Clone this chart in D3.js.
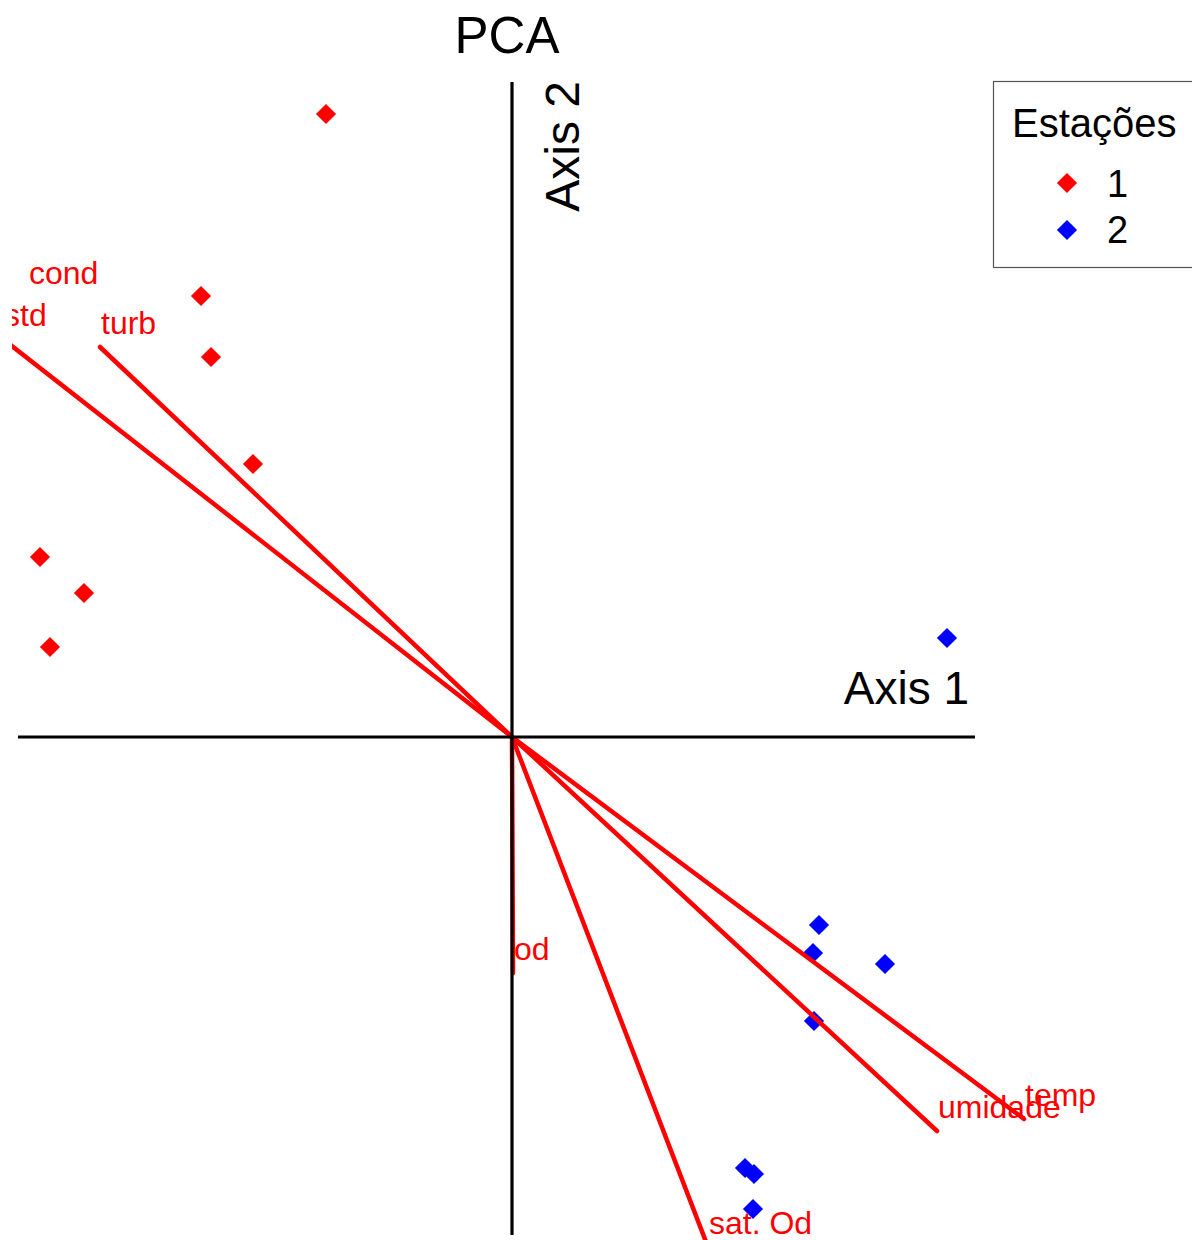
<!DOCTYPE html>
<html>
<head>
<meta charset="utf-8">
<script src="https://cdn.jsdelivr.net/npm/d3@7"></script>
<style>
  body { margin: 0; background: #fff; }
  svg { display: block; font-family: "Liberation Sans", Arial, sans-serif; }
</style>
</head>
<body>
<svg id="chart" width="1192" height="1240"></svg>
<script>
// ---- data (PCA axis units) ----
const station = ["1","1","1","1","1","1","1","2","2","2","2","2","2","2","2"];
const pc1 = [-1.86, -3.11, -3.01, -2.59, -4.72, -4.28, -4.62, 4.35, 3.07, 3.01, 3.73, 3.02, 2.33, 2.42, 2.41];
const pc2 = [ 6.23,  4.41,  3.80,  2.73,  1.80,  1.44,  0.90, 0.99, -1.88, -2.16, -2.27, -2.84, -4.31, -4.37, -4.72];

const varNames = ["cond", "std", "turb", "od", "sat. Od", "umidade", "temp"];
const loadX    = [-4.84, -5.09, -4.12, 0.01, 1.96, 4.25, 5.12];
const loadY    = [ 4.40,  3.98,  3.90, -2.36, -5.10, -3.94, -3.82];
const arrowShown = [false, true, true, true, true, true, true];

const stations = ["1", "2"];
const stationColors = ["#ff0000", "#0000ff"];
const axisX = [-4.94, 4.63];
const axisY = [-4.98, 6.55];

// ---- drawing ----
const svg = d3.select("#chart");
const x = d3.scaleLinear().domain([-5, 5]).range([12, 1012]);
const y = d3.scaleLinear().domain([-5, 5]).range([1237, 237]);
const color = d3.scaleOrdinal().domain(stations).range(stationColors);
const font = "Liberation Sans, Arial, sans-serif";

svg.append("defs").append("clipPath").attr("id", "plotclip")
  .append("rect").attr("x", 12).attr("y", 0).attr("width", 1180).attr("height", 1240);

const plot = svg.append("g").attr("clip-path", "url(#plotclip)");

// points
const diamond = d3.symbol().type(d3.symbolDiamond2).size(260);
plot.append("g").selectAll("path").data(pc1.map((d, i) => i)).join("path")
  .attr("d", diamond)
  .attr("transform", i => `translate(${x(pc1[i])},${y(pc2[i])})`)
  .attr("fill", i => color(station[i]));

// loadings
const loads = varNames.map((n, i) => ({ n, lx: loadX[i], ly: loadY[i], show: arrowShown[i] }));
plot.append("g").selectAll("line").data(loads.filter(d => d.show)).join("line")
  .attr("x1", x(0)).attr("y1", y(0))
  .attr("x2", d => x(d.lx)).attr("y2", d => y(d.ly))
  .attr("stroke", "#ff0000").attr("stroke-width", 4.5).attr("stroke-linecap", "round");
plot.append("g").selectAll("text").data(loads).join("text")
  .attr("x", d => x(d.lx) + 1).attr("y", d => y(d.ly) - 13)
  .attr("fill", "#ff0000").attr("font-size", 32).attr("font-family", font)
  .text(d => d.n);

// axes lines
svg.append("line").attr("x1", x(axisX[0])).attr("x2", x(axisX[1]))
  .attr("y1", y(0)).attr("y2", y(0)).attr("stroke", "#000").attr("stroke-width", 3.2);
svg.append("line").attr("x1", x(0)).attr("x2", x(0))
  .attr("y1", y(axisY[1])).attr("y2", y(axisY[0])).attr("stroke", "#000").attr("stroke-width", 3.2);

// axis labels
svg.append("text").attr("x", 969).attr("y", 704).attr("text-anchor", "end")
  .attr("font-size", 46).attr("font-family", font).text("Axis 1");
svg.append("text").attr("transform", `translate(579,${81}) rotate(-90)`).attr("text-anchor", "end")
  .attr("font-size", 48).attr("font-family", font).text("Axis 2");

// title
svg.append("text").attr("x", 507).attr("y", 53).attr("text-anchor", "middle")
  .attr("font-size", 51).attr("font-family", font).text("PCA");

// legend
const lg = svg.append("g");
lg.append("rect").attr("x", 993.5).attr("y", 81.5).attr("width", 210).attr("height", 186)
  .attr("fill", "#fff").attr("stroke", "#555").attr("stroke-width", 1.2);
lg.append("text").attr("x", 1012).attr("y", 137).attr("font-size", 40).attr("font-family", font).text("Estações");
stations.forEach((s, i) => {
  lg.append("path").attr("d", diamond)
    .attr("transform", `translate(1067,${183 + i * 47})`).attr("fill", color(s));
  lg.append("text").attr("x", 1107).attr("y", 197 + i * 46)
    .attr("font-size", 38).attr("font-family", font).text(s);
});
</script>
</body>
</html>
